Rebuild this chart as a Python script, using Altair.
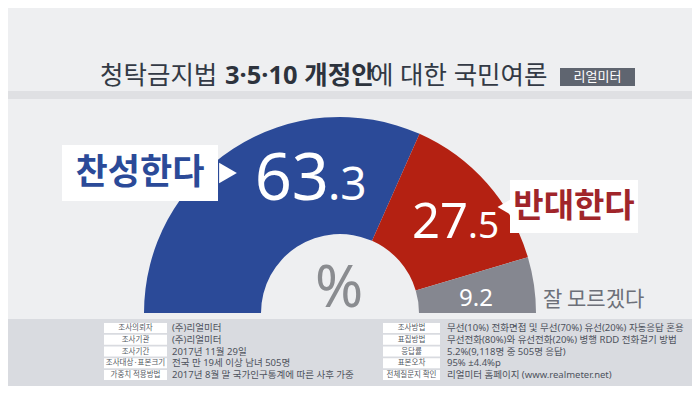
import math
import altair as alt
import pandas as pd

# ---------------- data ----------------
categories = ["찬성한다", "반대한다", "잘 모르겠다"]
values = [63.3, 27.5, 9.2]
colors = ["#2b4a98", "#b42112", "#858790"]

title_parts = ["청탁금지법", "3·5·10 개정안", "에 대한 국민여론"]
badge_text = "리얼미터"
unit_text = "%"

left_labels = ["조사의뢰자", "조사기관", "조사기간", "조사대상·표본크기", "가중치 적용방법"]
left_values = ["(주)리얼미터", "(주)리얼미터", "2017년 11월 29일",
               "전국 만 19세 이상 남녀 505명", "2017년 8월 말 국가인구통계에 따른 사후 가중"]
right_labels = ["조사방법", "표집방법", "응답률", "표본오차", "전체질문지 확인"]
right_values = ["무선(10%) 전화면접 및 무선(70%) 유선(20%) 자동응답 혼용",
                "무선전화(80%)와 유선전화(20%) 병행 RDD 전화걸기 방법",
                "5.2%(9,118명 중 505명 응답)",
                "95% ±4.4%p",
                "리얼미터 홈페이지 (www.realmeter.net)"]

KR = "Noto Sans CJK KR"
MIX = "Noto Sans, Noto Sans CJK KR"
NUM = "Noto Sans"
W, H = 684, 378

df = pd.DataFrame({"cat": categories, "value": values, "idx": list(range(len(values)))})

# ---------------- arc ----------------
arc = alt.Chart(df).mark_arc(outerRadius=196, innerRadius=79, stroke=None).encode(
    theta=alt.Theta("value:Q", stack=True,
                    scale=alt.Scale(domain=[0, 100], range=[1.5 * math.pi, 2.5 * math.pi])),
    color=alt.Color("cat:N", scale=alt.Scale(domain=categories, range=colors), legend=None),
    order=alt.Order("idx:Q"),
    x=alt.value(332), y=alt.value(305),
)


def txt(text, x, y, size, color, font=KR, weight="normal", align="center", baseline="middle"):
    return alt.Chart(pd.DataFrame({"t": [text]})).mark_text(
        font=font, fontSize=size, color=color, fontWeight=weight, align=align, baseline=baseline
    ).encode(text="t:N", x=alt.value(x), y=alt.value(y))


def box(x1, x2, y1, y2, color):
    return alt.Chart(pd.DataFrame({"a": [0]})).mark_rect(color=color).encode(
        x=alt.value(x1), x2=alt.value(x2), y=alt.value(y1), y2=alt.value(y2))


def tri(shape, x, y, size, color):
    return alt.Chart(pd.DataFrame({"a": [0]})).mark_point(
        shape=shape, size=size, filled=True, color=color, opacity=1, strokeWidth=0
    ).encode(x=alt.value(x), y=alt.value(y))


ints = [f"{v:.1f}".split(".")[0] for v in values]
decs = ["." + f"{v:.1f}".split(".")[1] for v in values]

layers = [
    # header band + footer band
    box(0, W, 83, 91, "#dfe0e3"),
    box(0, W, 311, H, "#d9dbe0"),
    arc,
    # title
    txt(title_parts[0], 92, 68, 25.5, "#333a45", font=MIX, align="left"),
    txt(title_parts[1], 217, 68, 25.5, "#2d333d", font=MIX, weight="bold", align="left"),
    txt(title_parts[2], 362, 68, 25.5, "#333a45", font=MIX, align="left"),
    box(552, 627, 60, 78, "#5f6570"),
    txt(badge_text, 589.5, 69, 13, "#ffffff"),
    # callout for 찬성
    box(54, 210, 137, 193, "#ffffff"),
    tri("triangle-right", 220, 165, 420, "#ffffff"),
    txt(categories[0], 132, 165, 35, colors[0], weight="bold"),
    # callout for 반대
    box(502, 630, 172, 225, "#ffffff"),
    tri("triangle-left", 498, 199, 380, "#ffffff"),
    txt(categories[1], 566, 199, 33, "#a0252a", weight="bold"),
    # value labels
    txt(ints[0], 321, 192, 65, "#ffffff", font=NUM, align="right", baseline="alphabetic"),
    txt(decs[0], 320, 192, 46, "#ffffff", font=NUM, align="left", baseline="alphabetic"),
    txt(ints[1], 460, 230, 49, "#ffffff", font=NUM, align="right", baseline="alphabetic"),
    txt(decs[1], 460, 230, 37, "#ffffff", font=NUM, align="left", baseline="alphabetic"),
    txt(f"{values[2]:.1f}", 468, 298, 24, "#ffffff", font=NUM, baseline="alphabetic"),
    txt(categories[2], 535, 298, 21, "#6d7079", align="left", baseline="alphabetic"),
    txt(unit_text, 331, 282, 58, "#8a8c90", font=NUM),
]

# ---------------- footer table ----------------
rows = list(range(len(left_labels)))
yscale = alt.Scale(domain=[0, 4], range=[320, 367])


def table(labels, vals, bx1, bx2, vx):
    d = pd.DataFrame({"row": rows, "label": labels, "val": vals})
    base = alt.Chart(d).transform_calculate(r0="datum.row - 0.42", r1="datum.row + 0.42")
    boxes = base.mark_rect(color="#ffffff").encode(
        y=alt.Y("r0:Q", scale=yscale, axis=None), y2="r1:Q",
        x=alt.value(bx1), x2=alt.value(bx2))
    lab = base.mark_text(font=KR, fontSize=7.5, color="#555a63").encode(
        y=alt.Y("row:Q", scale=yscale, axis=None), x=alt.value((bx1 + bx2) / 2), text="label:N")
    val = base.mark_text(font=MIX, fontSize=9.5, color="#4d525c", align="left").encode(
        y=alt.Y("row:Q", scale=yscale, axis=None), x=alt.value(vx), text="val:N")
    return [boxes, lab, val]


layers += table(left_labels, left_values, 96, 159, 164)
layers += table(right_labels, right_values, 375, 432, 439)

chart = alt.layer(*layers).properties(
    width=W, height=H, padding=0,
    autosize=alt.AutoSizeParams(type="none"),
    background="#eeeff1",
).configure_view(strokeWidth=0)

chart.save("out.html", embed_options={"renderer": "svg", "actions": False})
